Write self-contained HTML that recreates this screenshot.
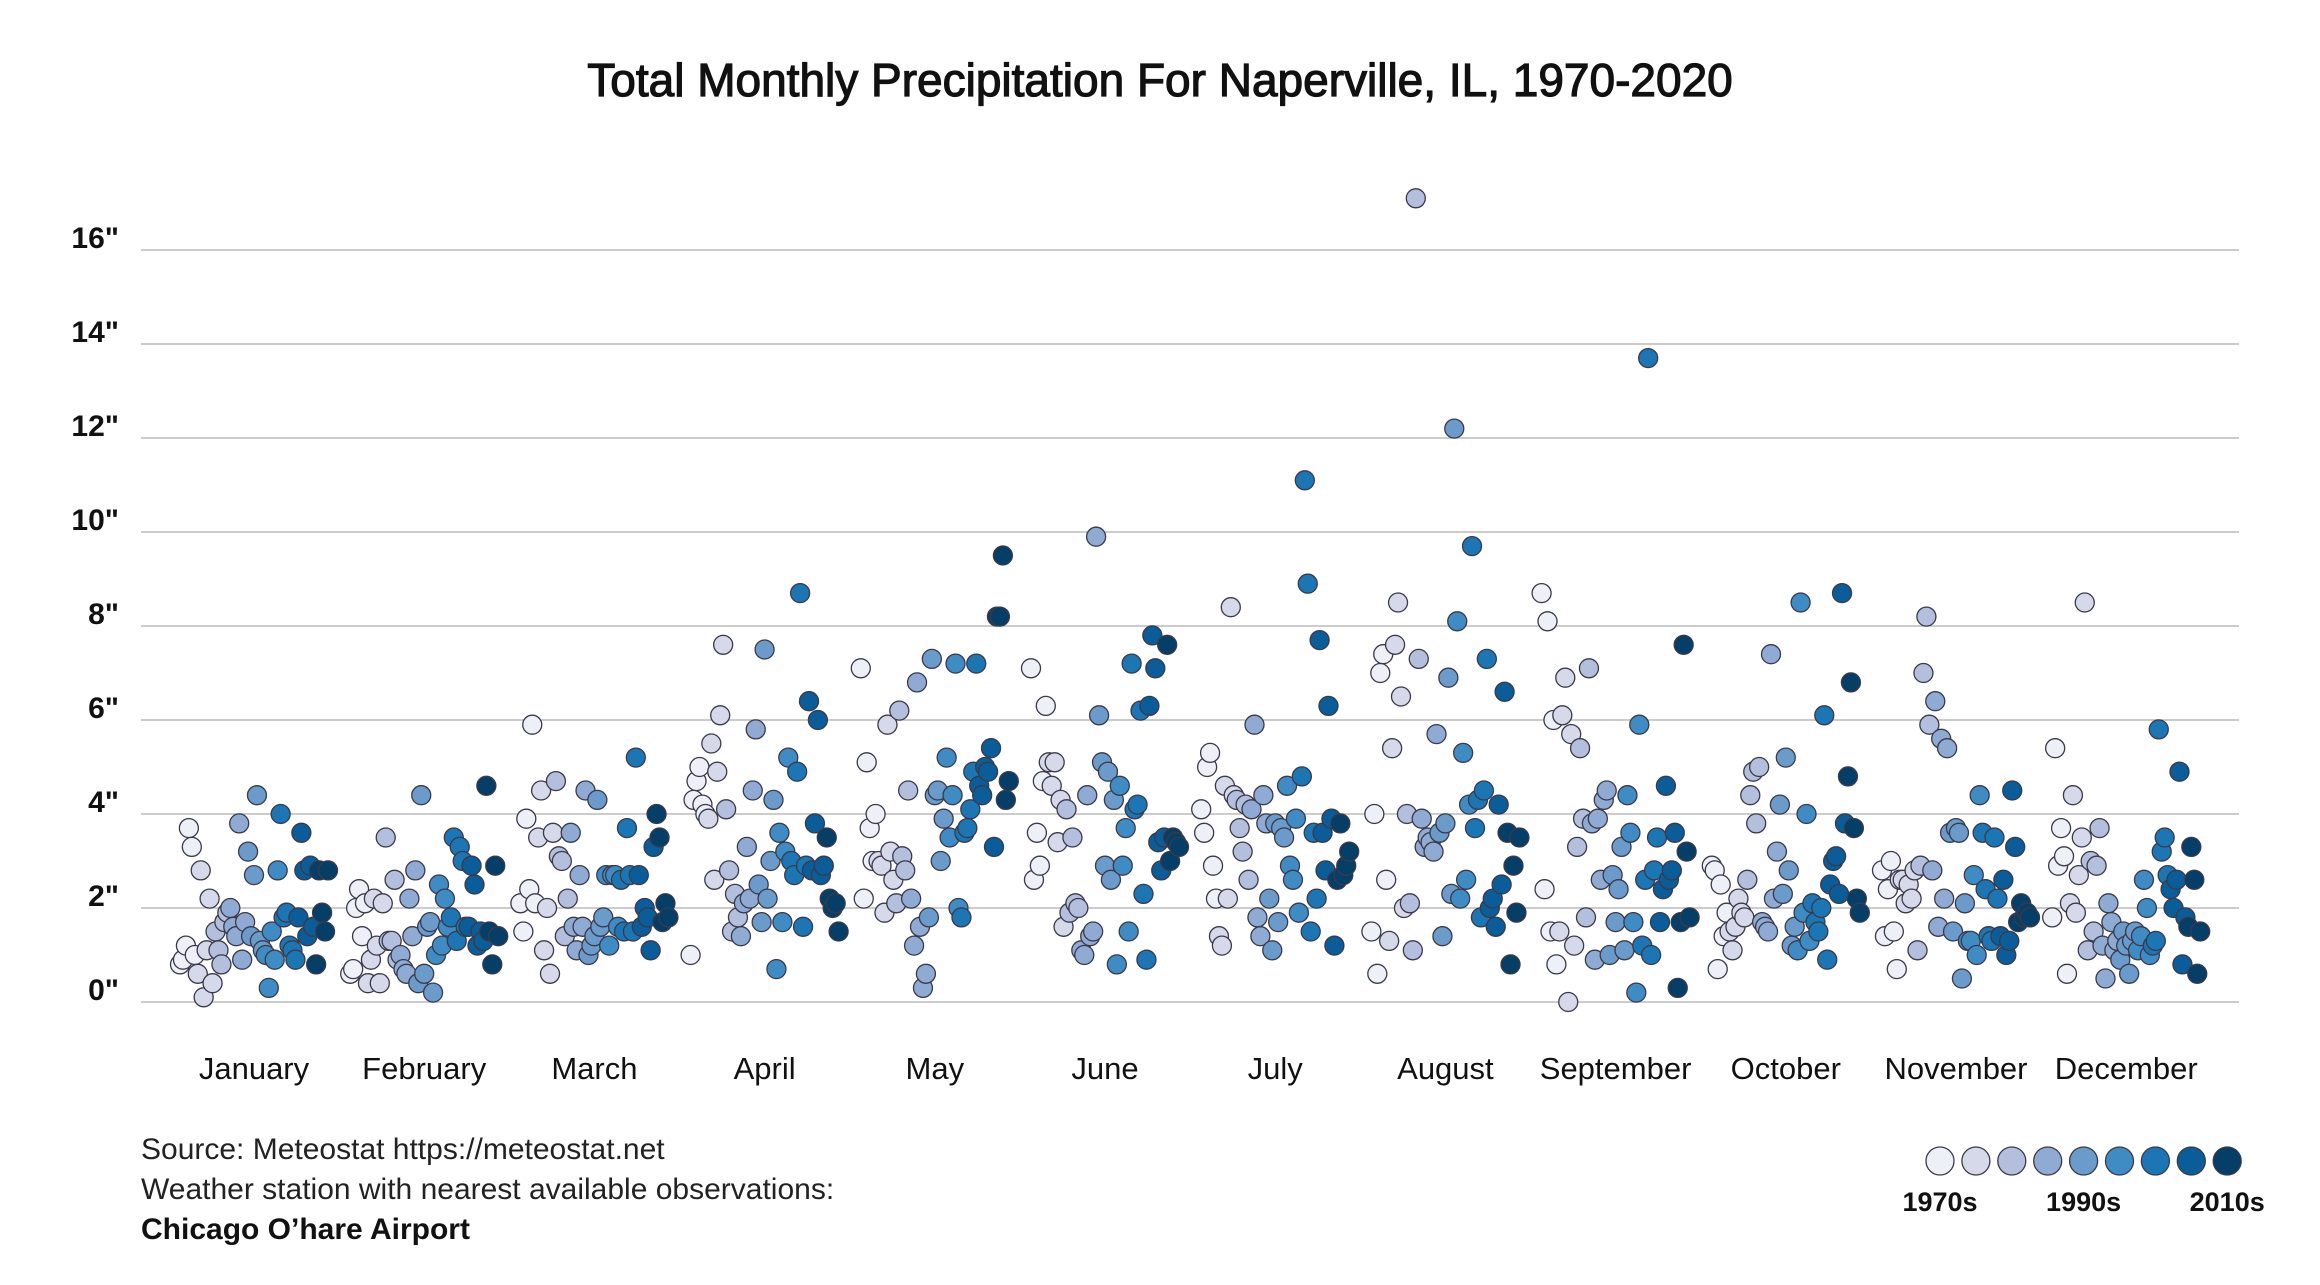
<!DOCTYPE html>
<html><head><meta charset="utf-8">
<style>
html,body{margin:0;padding:0;background:#fff;}
body{width:2320px;height:1280px;overflow:hidden;font-family:"Liberation Sans",sans-serif;}
</style></head>
<body>
<svg id="chart" width="2320" height="1280" viewBox="0 0 2320 1280" xmlns="http://www.w3.org/2000/svg">
<text x="1160" y="96" text-anchor="middle" font-family="Liberation Sans, sans-serif" font-size="46" fill="#111" stroke="#111" stroke-width="1.2">Total Monthly Precipitation For Naperville, IL, 1970-2020</text>
<g id="grid"></g>
<g id="yaxis"></g>
<g id="xaxis"></g>
<g id="points"></g>
<g font-family="Liberation Sans, sans-serif" font-size="30" fill="#222">
<text x="141" y="1159">Source: Meteostat https://meteostat.net</text>
<text x="141" y="1199">Weather station with nearest available observations:</text>
<text x="141" y="1239" font-weight="bold" fill="#111">Chicago O’hare Airport</text>
</g>
<g id="legend"></g>
</svg>
<script>
const months=["January","February","March","April","May","June","July","August","September","October","November","December"];
const yTicks=[0,2,4,6,8,10,12,14,16];
const legendLabels=["1970s","","","","1990s","","","","2010s"];
const jan=[0.8,0.9,1.2,3.7,3.3,1.0,0.6,2.8,0.1,1.1,2.2,0.4,1.5,1.1,0.8,1.7,1.9,2.0,1.6,1.4,3.8,0.9,1.7,3.2,1.4,2.7,4.4,1.3,1.1,1.0,0.3,1.5,0.9,2.8,4.0,1.8,1.9,1.2,1.1,0.9,1.8,3.6,2.8,1.4,2.9,1.6,0.8,2.8,1.9,1.5,2.8];
const feb=[0.6,0.7,2.0,2.4,1.4,2.1,0.4,0.9,2.2,1.2,0.4,2.1,3.5,1.3,1.3,2.6,0.9,1.0,0.7,0.6,2.2,1.4,2.8,0.4,4.4,0.6,1.6,1.7,0.2,1.0,2.5,1.2,2.2,1.6,1.8,3.5,1.3,3.3,3.0,1.6,1.6,2.9,2.5,1.2,1.5,1.3,4.6,1.5,0.8,2.9,1.4];
const mar=[2.1,1.5,3.9,2.4,5.9,2.1,3.5,4.5,1.1,2.0,0.6,3.6,4.7,3.1,3.0,1.4,2.2,3.6,1.6,1.1,2.7,1.6,4.5,1.0,1.2,1.4,4.3,1.6,1.8,2.7,1.2,2.7,2.7,1.6,2.6,1.5,3.7,2.7,1.5,5.2,2.7,1.6,2.0,1.8,1.1,3.3,4.0,3.5,1.7,2.1,1.8];
const apr=[1.0,4.3,4.7,5.0,4.2,4.0,3.9,5.5,2.6,4.9,6.1,7.6,4.1,2.8,1.5,2.3,1.8,1.4,2.1,3.3,2.2,4.5,5.8,2.5,1.7,7.5,2.2,3.0,4.3,0.7,3.6,1.7,3.2,5.2,3.0,2.7,4.9,8.7,1.6,2.9,6.4,2.8,3.8,6.0,2.7,2.9,3.5,2.2,2.0,2.1,1.5];
const may=[7.1,2.2,5.1,3.7,3.0,4.0,3.0,2.9,1.9,5.9,3.2,2.6,2.1,6.2,3.1,2.8,4.5,2.2,1.2,6.8,1.6,0.3,0.6,1.8,7.3,4.4,4.5,3.0,3.9,5.2,3.5,4.4,7.2,2.0,1.8,3.6,3.7,4.1,4.9,7.2,4.6,4.4,5.0,4.9,5.4,3.3,8.2,8.2,9.5,4.3,4.7];
const jun=[7.1,2.6,3.6,2.9,4.7,6.3,5.1,4.6,5.1,3.4,4.3,1.6,4.1,1.9,3.5,2.1,2.0,1.1,1.0,4.4,1.4,1.5,9.9,6.1,5.1,2.9,4.9,2.6,4.3,0.8,4.6,2.9,3.7,1.5,7.2,4.1,4.2,6.2,2.3,0.9,6.3,7.8,7.1,3.4,2.8,3.5,7.6,3.0,3.5,3.4,3.3];
const jul=[4.1,3.6,5.0,5.3,2.9,2.2,1.4,1.2,4.6,2.2,8.4,4.4,4.3,3.7,3.2,4.2,2.6,4.1,5.9,1.8,1.4,4.4,3.8,2.2,1.1,3.8,1.7,3.7,3.5,4.6,2.9,2.6,3.9,1.9,4.8,11.1,8.9,1.5,3.6,2.2,7.7,3.6,2.8,6.3,3.9,1.2,2.6,3.8,2.7,2.9,3.2];
const aug=[1.5,4.0,0.6,7.0,7.4,2.6,1.3,5.4,7.6,8.5,6.5,2.0,4.0,2.1,1.1,17.1,7.3,3.9,3.3,3.5,3.4,3.2,5.7,3.6,1.4,3.8,6.9,2.3,12.2,8.1,2.2,5.3,2.6,4.2,9.7,3.7,4.3,1.8,4.5,7.3,2.0,2.2,1.6,4.2,2.5,6.6,3.6,0.8,2.9,1.9,3.5];
const sep=[8.7,2.4,8.1,1.5,6.0,0.8,1.5,6.1,6.9,0.0,5.7,1.2,3.3,5.4,3.9,1.8,7.1,3.8,0.9,3.9,2.6,4.3,4.5,1.0,2.7,1.7,2.4,3.3,1.1,4.4,3.6,1.7,0.2,5.9,1.2,2.6,13.7,1.0,2.8,3.5,1.7,2.4,4.6,2.6,2.8,3.6,0.3,1.7,7.6,3.2,1.8];
const oct=[2.9,2.8,0.7,2.5,1.4,1.9,1.5,1.1,1.6,2.2,1.9,1.8,2.6,4.4,4.9,3.8,5.0,1.7,1.6,1.5,7.4,2.2,3.2,4.2,2.3,5.2,2.8,1.2,1.6,1.1,8.5,1.9,4.0,1.3,2.1,1.7,1.5,2.0,6.1,0.9,2.5,3.0,3.1,2.3,8.7,3.8,4.8,6.8,3.7,2.2,1.9];
const nov=[2.8,1.4,2.4,3.0,1.5,0.7,2.6,2.6,2.1,2.5,2.2,2.8,1.1,2.9,7.0,8.2,5.9,2.8,6.4,1.6,5.6,2.2,5.4,3.6,1.5,3.7,3.6,0.5,2.1,1.3,1.3,2.7,1.0,4.4,3.6,2.4,1.4,1.3,3.5,2.2,1.4,2.6,1.0,1.3,4.5,3.3,1.7,2.1,1.8,1.9,1.8];
const dec=[1.8,5.4,2.9,3.7,3.1,0.6,2.1,4.4,1.9,2.7,3.5,8.5,1.1,3.0,1.5,2.9,3.7,1.2,0.5,2.1,1.7,1.1,1.3,0.9,1.5,1.2,0.6,1.3,1.5,1.1,1.4,2.6,2.0,1.0,1.2,1.3,5.8,3.2,3.5,2.7,2.4,2.0,2.6,4.9,0.8,1.8,1.6,3.3,2.6,0.6,1.5];
const series=[jan,feb,mar,apr,may,jun,jul,aug,sep,oct,nov,dec];
const palette=["#eef0f8","#d6d9ea","#b3bfdc","#8fabd3","#6a9bcb","#3f8cc4","#1c76b4","#0a5d98","#053e66"];
const NS="http://www.w3.org/2000/svg";
const X0=141,X1=2239,Y0=1002,PXIN=47;
function yScale(v){return Y0-v*PXIN;}
function monthX(m){return 254+m*170.2;}
function xScale(m,yr){return monthX(m)-74+yr*2.96;}
function mk(tag,attrs,parent){const e=document.createElementNS(NS,tag);for(const k in attrs)e.setAttribute(k,attrs[k]);parent.appendChild(e);return e;}
const grid=document.getElementById('grid'),ya=document.getElementById('yaxis'),xa=document.getElementById('xaxis'),pts=document.getElementById('points'),lg=document.getElementById('legend');
yTicks.forEach(t=>{
  const l=mk('line',{x1:X0,x2:X1,y1:yScale(t),y2:yScale(t),stroke:'#bbb','stroke-width':1.5},grid);
  
  
  const tx=mk('text',{x:119,y:yScale(t)-2,'text-anchor':'end','font-size':30,'font-weight':'bold',fill:'#111'},ya);
  tx.textContent=t+'"';
  
  
});
months.forEach((m,i)=>{
  const tx=mk('text',{x:monthX(i),y:1079,'text-anchor':'middle','font-size':31,fill:'#111'},xa);
  tx.textContent=m;
  
  
});
series.forEach((vals,m)=>{
  vals.forEach((v,yr)=>{
    const ci=Math.min(8,Math.floor(yr/51*9));
    const c=mk('circle',{cx:xScale(m,yr),cy:yScale(v),r:9.5,fill:palette[ci],stroke:'#3a3a4a','stroke-width':1.3},pts);
    
    
  });
});
palette.forEach((col,i)=>{
  const cx=1940+i*35.9;
  const c=mk('circle',{cx:cx,cy:1161,r:14,fill:col,stroke:'#3a3a4a','stroke-width':1.3},lg);
  
  
  if(legendLabels[i]){
    const t=mk('text',{x:cx,y:1211,'text-anchor':'middle','font-size':27,'font-weight':'bold',fill:'#111'},lg);
    t.textContent=legendLabels[i];
    
    
  }
});
</script>
</body></html>
